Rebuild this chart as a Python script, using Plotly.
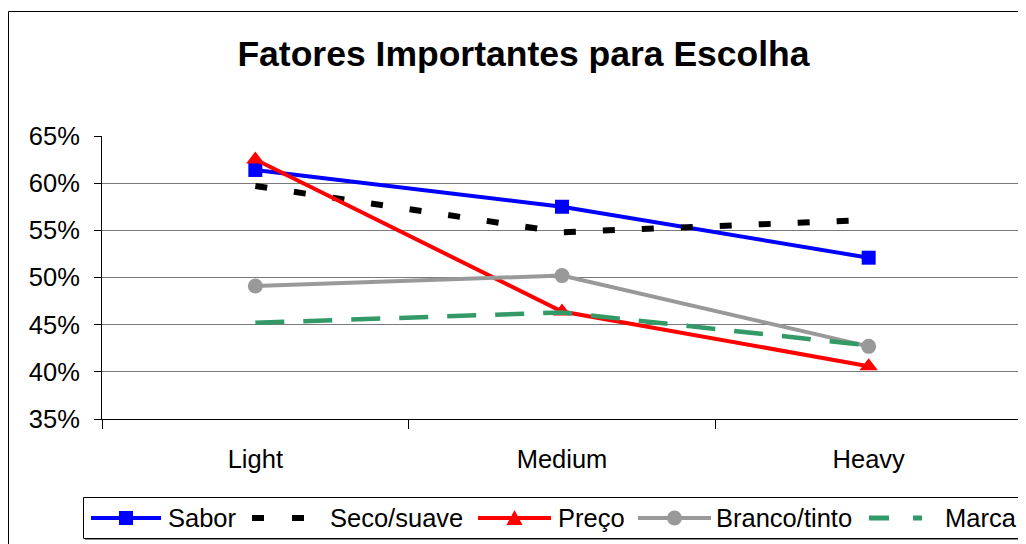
import plotly.graph_objects as go

categories = ["Light", "Medium", "Heavy"]
sabor = [0.614, 0.575, 0.521]
seco_suave = [0.597, 0.548, 0.561]
preco = [0.625, 0.464, 0.406]
branco_tinto = [0.491, 0.502, 0.427]
marca = [0.452, 0.463, 0.428]

y_ticks = [0.35, 0.40, 0.45, 0.50, 0.55, 0.60, 0.65]
y_tick_labels = ["35%", "40%", "45%", "50%", "55%", "60%", "65%"]

FONT = "Liberation Sans, Arial, sans-serif"
BLUE, BLACK, RED, GRAY, GREEN = "#0000FF", "#000000", "#FF0000", "#999999", "#339966"

# page is rendered with an 8px body margin; plot area on page: x 102..1022, y 136..419
def px(X):
    return (X - 102) / 920.0

def py(Y):
    return (419 - Y) / 283.0

fig = go.Figure()
fig.add_trace(go.Scatter(x=categories, y=sabor, name="Sabor", mode="lines+markers",
                         line=dict(color=BLUE, width=4),
                         marker=dict(symbol="square", size=14, color=BLUE)))
fig.add_trace(go.Scatter(x=categories, y=seco_suave, name="Seco/suave", mode="lines",
                         line=dict(color=BLACK, width=6, dash="12px,27px")))
fig.add_trace(go.Scatter(x=categories, y=preco, name="Preço", mode="lines+markers",
                         line=dict(color=RED, width=4),
                         marker=dict(symbol="triangle-up", size=16, color=RED)))
fig.add_trace(go.Scatter(x=categories, y=branco_tinto, name="Branco/tinto", mode="lines+markers",
                         line=dict(color=GRAY, width=4),
                         marker=dict(symbol="circle", size=15, color=GRAY)))
fig.add_trace(go.Scatter(x=categories, y=marca, name="Marca", mode="lines",
                         line=dict(color=GREEN, width=4.5, dash="29px,19px")))

fig.update_layout(
    width=1018, height=536,
    margin=dict(l=94, r=4, t=128, b=125, pad=0),
    paper_bgcolor="white", plot_bgcolor="white",
    font=dict(family=FONT, size=25.5, color="black"),
    title=dict(text="<b>Fatores Importantes para Escolha</b>", x=px(523.5), xref="paper",
               xanchor="center", y=1 - 45.5 / 536, yref="container", yanchor="middle",
               font=dict(size=35.5, family=FONT, color="black")),
    showlegend=False,
    xaxis=dict(type="category", tickson="boundaries", ticks="outside", ticklen=9,
               tickcolor="black", showgrid=False, showline=True, linecolor="black",
               linewidth=1, range=[-0.5, 2.5], tickfont=dict(size=25.5),
               ticklabelstandoff=17, fixedrange=True),
    yaxis=dict(range=[0.35, 0.65], tickvals=y_ticks, ticktext=y_tick_labels,
               ticks="outside", ticklen=7, tickcolor="black", showgrid=True,
               gridcolor="#7a7a7a", gridwidth=1, showline=True, linecolor="black",
               linewidth=1, zeroline=False, tickfont=dict(size=25.5),
               ticklabelstandoff=9, fixedrange=True),
)

shapes = []
# outer chart border
shapes.append(dict(type="rect", xref="paper", yref="paper",
                   x0=px(8.5), x1=px(1040), y0=py(560), y1=py(11.5),
                   line=dict(color="black", width=1), fillcolor="rgba(0,0,0,0)", layer="below"))
# legend box with shadow
shapes.append(dict(type="rect", xref="paper", yref="paper",
                   x0=px(85), x1=px(1024.5), y0=py(540), y1=py(499),
                   line=dict(color="#808080", width=0), fillcolor="#8c8c8c", layer="above"))
shapes.append(dict(type="rect", xref="paper", yref="paper",
                   x0=px(83.5), x1=px(1022.5), y0=py(538.5), y1=py(497.5),
                   line=dict(color="black", width=1), fillcolor="white", layer="above"))

LY = 518
legend_items = [
    ("Sabor", BLUE, None, 4, 91, 161, "square", 167),
    ("Seco/suave", BLACK, "12px,28px", 6, 252, 306, None, 329),
    ("Preço", RED, None, 4, 478, 551, "triangle", 557),
    ("Branco/tinto", GRAY, None, 4, 638, 711, "circle", 715),
    ("Marca", GREEN, "20px,24px", 5, 869, 922, None, 944),
]
annotations = []
for name, color, dash, w, x0, x1, sym, tx in legend_items:
    ln = dict(color=color, width=w)
    if dash:
        ln["dash"] = dash
    shapes.append(dict(type="line", xref="paper", yref="paper",
                       x0=px(x0), x1=px(x1), y0=py(LY), y1=py(LY), line=ln, layer="above"))
    cx = (x0 + x1) / 2.0
    if sym == "square":
        shapes.append(dict(type="rect", xref="paper", yref="paper",
                           x0=px(cx - 7), x1=px(cx + 7), y0=py(LY + 7), y1=py(LY - 7),
                           line=dict(width=0), fillcolor=color, layer="above"))
    elif sym == "circle":
        shapes.append(dict(type="circle", xref="paper", yref="paper",
                           x0=px(cx - 7.5), x1=px(cx + 7.5), y0=py(LY + 7.5), y1=py(LY - 7.5),
                           line=dict(width=0), fillcolor=color, layer="above"))
    elif sym == "triangle":
        path = "M {:.5f},{:.5f} L {:.5f},{:.5f} L {:.5f},{:.5f} Z".format(
            px(cx - 8), py(LY + 7), px(cx + 8), py(LY + 7), px(cx), py(LY - 8))
        shapes.append(dict(type="path", xref="paper", yref="paper", path=path,
                           line=dict(width=0), fillcolor=color, layer="above"))
    annotations.append(dict(text=name, xref="paper", yref="paper", x=px(tx - 1), y=py(LY),
                            xanchor="left", yanchor="middle", showarrow=False,
                            font=dict(size=25.5, family=FONT, color="black")))

fig.update_layout(shapes=shapes, annotations=annotations)

fig.write_html("out.html")
